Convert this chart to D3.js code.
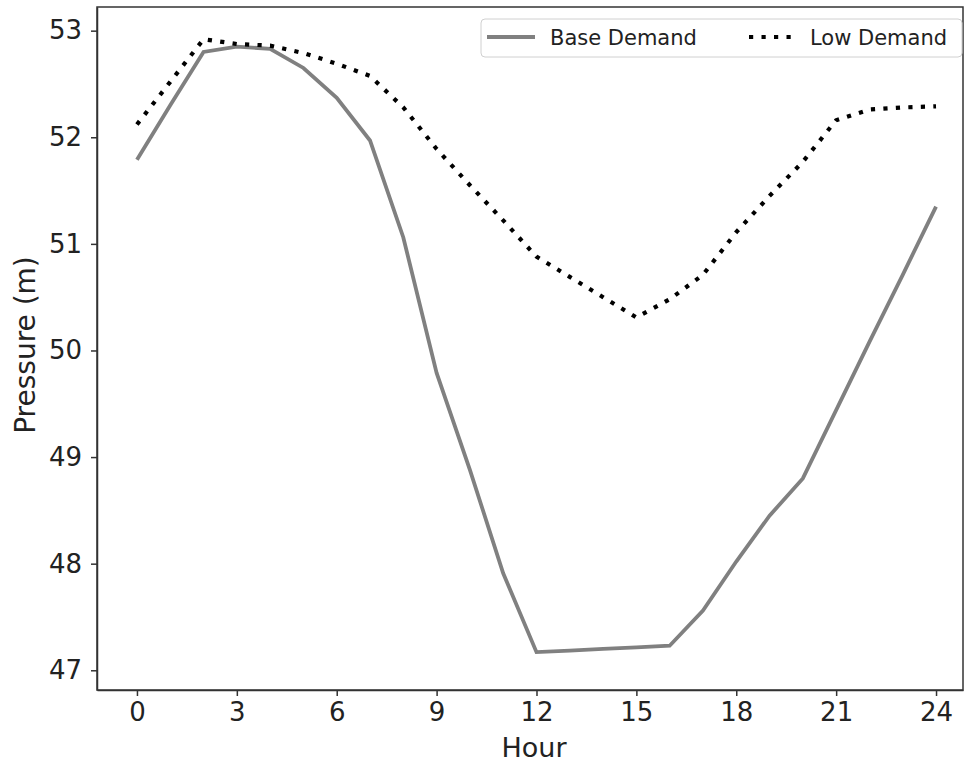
<!DOCTYPE html>
<meta charset="UTF-8">
<style>
body { margin: 0; background: #fff; }
text { font-family: "DejaVu Sans", sans-serif; fill: #222; }
.axis path, .axis line { stroke: #333; stroke-width: 1.5px; }
.axis text { font-size: 26px; }
</style>
<body>
<script src="https://d3js.org/d3.v7.min.js"></script>
<script>

// hours on the x axis
var hours = [0, 1, 2, 3, 4, 5, 6, 7, 8, 9, 10, 11, 12, 13, 14, 15, 16, 17, 18, 19, 20, 21, 22, 23, 24];

// pressure (m)
var baseDemand = [51.79, 52.30, 52.80, 52.85, 52.83, 52.65, 52.37, 51.97, 51.06, 49.79, 48.88, 47.91,
                  47.17, 47.185, 47.20, 47.215, 47.23, 47.56, 48.02, 48.45, 48.80, 49.44, 50.08, 50.71, 51.35];
var lowDemand  = [52.12, 52.52, 52.92, 52.875, 52.86, 52.79, 52.69, 52.575, 52.28, 51.89, 51.55, 51.22,
                  50.88, 50.69, 50.50, 50.31, 50.48, 50.71, 51.11, 51.45, 51.77, 52.16, 52.26, 52.28, 52.29];

var xTicks = [0, 3, 6, 9, 12, 15, 18, 21, 24];
var yTicks = [47, 48, 49, 50, 51, 52, 53];

var W = 964, H = 766;
var margin = {top: 7, right: 1, bottom: 76, left: 97};
var width = W - margin.left - margin.right,
    height = H - margin.top - margin.bottom;

var svg = d3.select("body").append("svg")
    .attr("width", W)
    .attr("height", H);

var g = svg.append("g")
    .attr("transform", "translate(" + margin.left + "," + margin.top + ")");

var x = d3.scaleLinear().domain([-1.2, 24.81]).range([0, width]);
var y = d3.scaleLinear().domain([46.815, 53.222]).range([height, 0]);

// axes
g.append("g")
    .attr("class", "axis")
    .attr("transform", "translate(0," + height + ")")
    .call(d3.axisBottom(x).tickValues(xTicks).tickFormat(d3.format("d"))
        .tickSize(6).tickPadding(7).tickSizeOuter(0));

g.append("g")
    .attr("class", "axis")
    .call(d3.axisLeft(y).tickValues(yTicks).tickFormat(d3.format("d"))
        .tickSize(6).tickPadding(9).tickSizeOuter(0));

// frame (top and right spines)
g.append("rect")
    .attr("width", width)
    .attr("height", height)
    .attr("fill", "none")
    .attr("stroke", "#333")
    .attr("stroke-width", 1.5);

var line = d3.line()
    .x(function(d, i) { return x(hours[i]); })
    .y(function(d) { return y(d); });

g.append("path")
    .datum(baseDemand)
    .attr("fill", "none")
    .attr("stroke", "#808080")
    .attr("stroke-width", 3.8)
    .attr("d", line);

g.append("path")
    .datum(lowDemand)
    .attr("fill", "none")
    .attr("stroke", "#000")
    .attr("stroke-width", 4.2)
    .attr("stroke-dasharray", "4.2 8.3")
    .attr("d", line);

// axis labels
svg.append("text")
    .attr("x", margin.left + width / 2 + 4)
    .attr("y", 757)
    .attr("text-anchor", "middle")
    .style("font-size", "27px")
    .text("Hour");

svg.append("text")
    .attr("transform", "translate(35,345) rotate(-90)")
    .attr("text-anchor", "middle")
    .style("font-size", "28px")
    .text("Pressure (m)");

// legend
var leg = svg.append("g").attr("transform", "translate(481,19)");
leg.append("rect")
    .attr("width", 481)
    .attr("height", 38)
    .attr("rx", 4)
    .attr("fill", "#fff")
    .attr("fill-opacity", 0.8)
    .attr("stroke", "#d0d0d0")
    .attr("stroke-width", 1);

leg.append("line")
    .attr("x1", 6).attr("x2", 54).attr("y1", 18).attr("y2", 18)
    .attr("stroke", "#808080").attr("stroke-width", 3.8);
leg.append("text")
    .attr("x", 69).attr("y", 25.5)
    .style("font-size", "21px")
    .text("Base Demand");

leg.append("line")
    .attr("x1", 268).attr("x2", 316).attr("y1", 18).attr("y2", 18)
    .attr("stroke", "#000").attr("stroke-width", 4.2)
    .attr("stroke-dasharray", "4.2 8.3");
leg.append("text")
    .attr("x", 329).attr("y", 25.5)
    .style("font-size", "21px")
    .text("Low Demand");

</script>
</body>
